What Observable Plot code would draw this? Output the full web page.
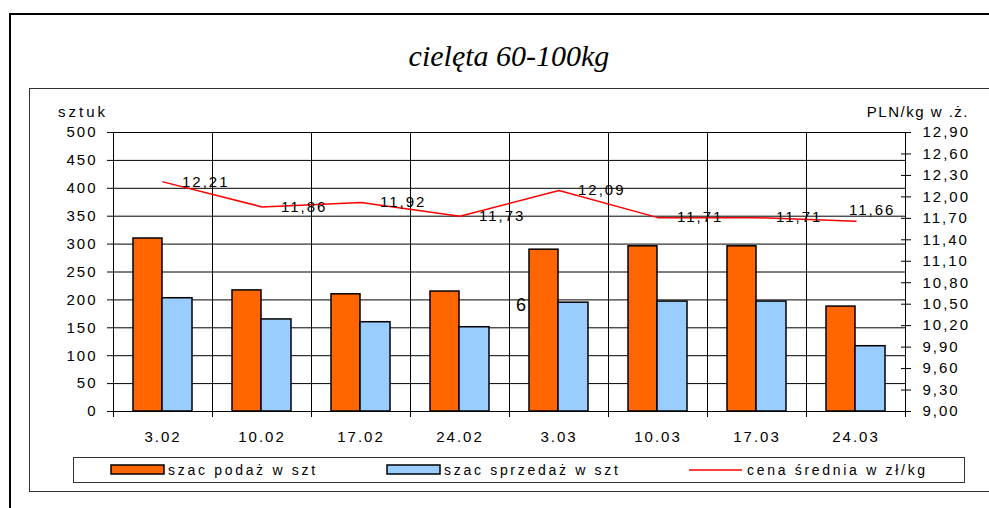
<!DOCTYPE html>
<html><head><meta charset="utf-8">
<script src="https://cdn.jsdelivr.net/npm/d3@7"></script>
<script src="https://cdn.jsdelivr.net/npm/@observablehq/plot@0.6"></script>
<style>
body{margin:0;background:#fff;}
#chart svg text{letter-spacing:2px;}
#chart svg text.title{letter-spacing:0;}
#chart svg text.lt{letter-spacing:3px;}
#chart svg text.rt{letter-spacing:1.5px;}
#chart svg text.leg{letter-spacing:2.7px;}
</style></head><body><div id="chart"></div>
<script>
const categories = ["3.02","10.02","17.02","24.02","3.03","10.03","17.03","24.03"];
const supply = [310,217,210,215,290,296,296,188];
const sales = [203,165,160,151,195,197,197,117];
const price = [12.21,11.86,11.92,11.73,12.09,11.71,11.71,11.66];
const leftTicks = [0,50,100,150,200,250,300,350,400,450,500];
const rightTicks = [9.00,9.30,9.60,9.90,10.20,10.50,10.80,11.10,11.40,11.70,12.00,12.30,12.60,12.90];
const seriesNames = ["szac podaż w szt","szac sprzedaż w szt","cena średnia w zł/kg"];
const strayNote = [{cat:"3.03", value:190, text:"6"}];
const titleText = "cielęta 60-100kg";
const leftTitle = "sztuk";
const rightTitle = "PLN/kg w .ż.";

const pMin = rightTicks[0], pMax = rightTicks[rightTicks.length-1];
const yMax = leftTicks[leftTicks.length-1];
const toLeft = p => (p - pMin) / (pMax - pMin) * yMax;
const fromLeft = v => v / yMax * (pMax - pMin) + pMin;
const fmt = v => v.toFixed(2).replace(".", ",");

const data = categories.map((c,i)=>({i, c, supply:supply[i], sales:sales[i], price:price[i]}));
const bounds = d3.range(categories.length+1).map(i=>i-0.5);

const ORANGE = "#FF6600", BLUE = "#99CCFF", RED = "#FF0000";

const chart = Plot.plot({
  width: 989, height: 508,
  marginLeft: 113, marginRight: 84, marginTop: 132, marginBottom: 97,
  style: {fontFamily: "'Liberation Sans', Arial, sans-serif", fontSize: "15px", background: "#fff", color: "#000"},
  x: {type: "linear", domain: [-0.5, categories.length-0.5]},
  y: {domain: [0, yMax]},
  marks: [
    Plot.ruleY(leftTicks, {stroke: "#000", strokeWidth: 1}),
    Plot.ruleX(bounds, {stroke: "#000", strokeWidth: 1}),
    Plot.rectY(data, {x1: d=>d.i-0.5, x2: d=>d.i+0.5, y: "supply", fill: ORANGE, stroke: "#000", strokeWidth: 1.5, insetLeft: 20, insetRight: 50}),
    Plot.rectY(data, {x1: d=>d.i-0.5, x2: d=>d.i+0.5, y: "sales", fill: BLUE, stroke: "#000", strokeWidth: 1.5, insetLeft: 49, insetRight: 20}),
    Plot.line(data, {x: "i", y: d=>toLeft(d.price), stroke: RED, strokeWidth: 1.5}),
    Plot.text(data.slice(0,-1), {x: "i", y: d=>toLeft(d.price), text: d=>fmt(d.price), dx: 19, textAnchor: "start", fontSize: 15, fill: "#000"}),
    Plot.text(data.slice(-1), {x: "i", y: d=>toLeft(d.price), text: d=>fmt(d.price), dx: -7, dy: -11, textAnchor: "start", fontSize: 15, fill: "#000"}),
    Plot.text(strayNote, {x: d=>categories.indexOf(d.cat), y: "value", text: "text", dx: -37, fontSize: 18, fill: "#000"}),
    Plot.axisY({anchor: "left", ticks: leftTicks, tickSize: 6, tickPadding: 10, tickFormat: d=>String(d), label: null}),
    Plot.axisX({anchor: "bottom", ticks: bounds, tickSize: 6, tickFormat: ()=>"", label: null}),
    Plot.axisX({anchor: "bottom", ticks: d3.range(categories.length), tickSize: 0, tickPadding: 20, tickFormat: i=>categories[i], label: null}),
    Plot.axisY({anchor: "right", ticks: rightTicks.map(toLeft), tickSize: 10, dx: -5, tickFormat: ()=>"", label: null}),
    Plot.axisY({anchor: "right", ticks: rightTicks.map(toLeft), tickSize: 0, tickPadding: 17, tickFormat: v=>fmt(fromLeft(v)), label: null})
  ]
});
document.getElementById("chart").appendChild(chart);

const svg = d3.select(chart);
// frames
svg.insert("rect", ":first-child").attr("x",10).attr("y",14).attr("width",1000).attr("height",520).attr("fill","none").attr("stroke","#000").attr("stroke-width",2);
svg.append("rect").attr("x",29.5).attr("y",88.5).attr("width",1000).attr("height",403).attr("fill","none").attr("stroke","#333").attr("stroke-width",1);
// title
svg.append("text").attr("class","title").attr("x",509).attr("y",66).attr("text-anchor","middle")
  .attr("font-family","'Liberation Serif','Times New Roman',serif").attr("font-style","italic").attr("font-size",30).text(titleText);
// axis titles
svg.append("text").attr("class","lt").attr("x",58).attr("y",117).attr("text-anchor","start").attr("font-size",15).text(leftTitle);
svg.append("text").attr("class","rt").attr("x",969).attr("y",117).attr("text-anchor","end").attr("font-size",15).text(rightTitle);
// legend
const lg = svg.append("g").attr("font-size",14).attr("text-anchor","start");
lg.append("rect").attr("x",73.5).attr("y",457.5).attr("width",891).attr("height",25).attr("fill","#fff").attr("stroke","#333");
lg.append("rect").attr("x",111).attr("y",465).attr("width",53).attr("height",9).attr("fill",ORANGE).attr("stroke","#000").attr("stroke-width",1.5);
lg.append("text").attr("class","leg").attr("x",168).attr("y",475).attr("text-anchor","start").text(seriesNames[0]);
lg.append("rect").attr("x",387).attr("y",465).attr("width",53).attr("height",9).attr("fill",BLUE).attr("stroke","#000").attr("stroke-width",1.5);
lg.append("text").attr("class","leg").attr("x",444).attr("y",475).attr("text-anchor","start").text(seriesNames[1]);
lg.append("line").attr("x1",689).attr("x2",742).attr("y1",470).attr("y2",470).attr("stroke",RED).attr("stroke-width",1.5);
lg.append("text").attr("class","leg").attr("x",747).attr("y",475).attr("text-anchor","start").text(seriesNames[2]);
</script></body></html>
